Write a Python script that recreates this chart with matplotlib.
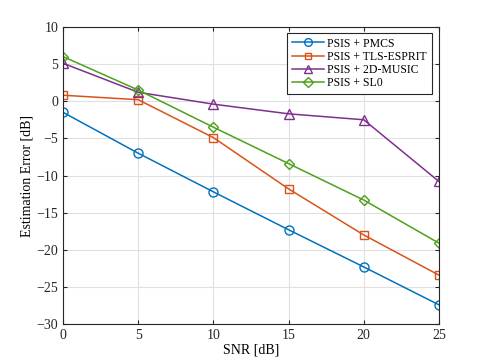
import matplotlib
matplotlib.use('Agg')
import matplotlib.pyplot as plt

snr = [0, 5, 10, 15, 20, 25]
pmcs = [-1.5, -7.0, -12.2, -17.3, -22.3, -27.4]
tls_esprit = [0.8, 0.2, -4.9, -11.8, -18.0, -23.4]
music_2d = [5.1, 1.2, -0.4, -1.7, -2.5, -10.8]
sl0 = [6.0, 1.5, -3.5, -8.4, -13.3, -19.1]

labels = ['PSIS + PMCS', 'PSIS + TLS-ESPRIT', 'PSIS + 2D-MUSIC', 'PSIS + SL0']
xticks = [0, 5, 10, 15, 20, 25]
yticks = [-30, -25, -20, -15, -10, -5, 0, 5, 10]

plt.rcParams['font.family'] = ['Liberation Serif', 'DejaVu Serif']
plt.rcParams['font.size'] = 10

fig = plt.figure(figsize=(4.85, 3.63), dpi=100)
ax = fig.add_axes([0.13, 0.107, 0.775, 0.819])

# matlab default colours
ax.plot(snr, pmcs, '-o', color='#0072BD', mfc='none', ms=6.5, lw=1.1, label=labels[0])
ax.plot(snr, tls_esprit, '-s', color='#D95319', mfc='none', ms=5.5, lw=1.1, label=labels[1])
ax.plot(snr, music_2d, '-^', color='#7E2F8E', mfc='none', ms=6.5, lw=1.1, label=labels[2])
ax.plot(snr, sl0, '-D', color='#4DA01A', mfc='none', ms=5.5, lw=1.1, label=labels[3])

ax.set_xlim(0, 25)
ax.set_ylim(-30, 10)
ax.set_xticks(xticks)
ax.set_yticks(yticks)
ax.grid(True, color='#e0e0e0', lw=0.8)
ax.set_axisbelow(True)
ax.tick_params(direction='in', top=True, right=True, length=3, colors='#262626')
for s in ax.spines.values():
    s.set_color('#262626')
    s.set_linewidth(0.8)

ax.set_xlabel('SNR [dB]', labelpad=1)
ax.set_ylabel('Estimation Error [dB]', labelpad=2)

leg = ax.legend(loc='upper right', fancybox=False, edgecolor='#262626',
                framealpha=1, fontsize=8.5, handlelength=2.7, handletextpad=0.3,
                borderpad=0.4, labelspacing=0.1, markerscale=0.85,
                bbox_to_anchor=(0.981, 0.98), borderaxespad=0)
leg.get_frame().set_linewidth(0.8)

fig.savefig('out.png', dpi=100)
